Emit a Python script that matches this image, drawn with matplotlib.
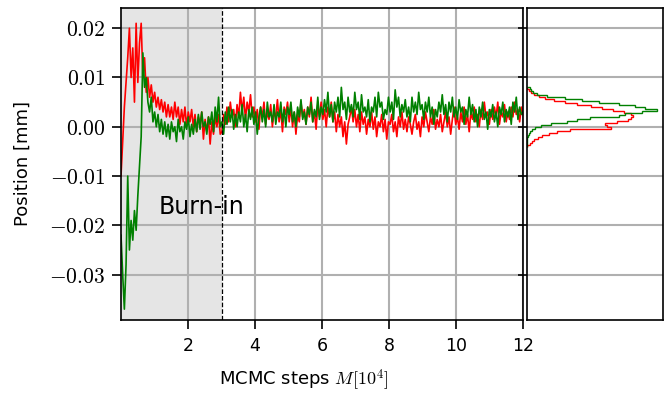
import numpy as np
import matplotlib
matplotlib.use("Agg")
import matplotlib.pyplot as plt
from matplotlib.ticker import FuncFormatter

# trace values in micrometres, one value every 500 MCMC steps
red_um = [-10, -3, 4, 9, 14, 20, 10, 16, 5, 21,
          9, 17, 21, 10, 14, 7, 10, 6, 8.5, 5,
          7, 4, 6, 3.5, 5.5, 3, 5, 2, 4.5, 2,
          4, 1.5, 5, 2, 4, 0.5, 3.5, 1, 4, 0,
          3, 1, 3.5, 0, 2.5, -1, 2, 0.5, 3, -2.5,
          1.5, -1, 2, -3.5, 1, -1.5, 2, 0, 2.5, -1.5,
          -1, 2.5, 0.5, 4, 1, 5, 2, 3.5, 0, 4.5,
          2, 7, 3, 6, 1.5, 5, 3, 6.5, 2, 4,
          1, 3.5, -0.5, 4, 2, 5, 0.5, 3, 1.5, 4.5,
          0, 3, 2, 5.5, 1, 3.5, -1, 4, 2.5, 5,
          1, 4, 0, 3, -1.5, 2.5, 1, 5, 2, 3.5,
          0.5, 4, 2, 6, 1, 3, -0.5, 4.5, 2, 5,
          1.5, 3.5, 0, 4, 2, 5, 1, 3, -1, 2.5,
          0, 2, -2, 1, -3.5, 0.5, 2, 4, 1, 3.5,
          0, 2.5, -1, 3, 0.5, 2, -1.5, 1.5, 0, 3,
          -0.5, 2, -2, 1, 0, 2.5, -1, 1.5, -2.5, 1,
          0.5, 2.5, -1, 1, -2, 2, 0, 3, -0.5, 1.5,
          -1, 2, 0.5, -1.5, 1, 2.5, -0.5, 1, -2, 2,
          0, 3, 1, -1, 2, 0.5, 3.5, -0.5, 1.5, 0,
          2.5, -1, 1, 3, 0, 2, -1.5, 1.5, 4, 0.5,
          2, -0.5, 3, 1, 4, 0.5, 2.5, -1, 3, 1.5,
          4, 1, 2.5, 0, 3.5, 1.5, 5, 2, 3, 0.5,
          3.5, 1.5, 4, 2, 5, 0.5, 3, 2, 4.5, 1,
          3, 1.5, 4, 2, 5, 2.5, 3.5, 1, 4, 2.5]

green_um = [-22, -30, -37, -28, -10, -25, -19, -23, -17, -21,
            -14, -8, -2, 15, 8, 10, 5, 3, 6, 1,
            3, 0, 2.5, -1, 1.5, -1.5, 1, -2, 0.5, -2.5,
            1, -1, 0, -3, 1.5, -1, 0, -2.5, 1, -0.5,
            2, -2, 0.5, -1.5, 1.5, -1, 2.5, -0.5, 3, 0,
            1, -1.5, 2, 0.5, 3, -1, 4, 1, 6, 0,
            1, -1.5, 3, 0.5, 4, 1, 3.5, -0.5, 2.5, 0,
            3, 1, 4.5, 0, 2.5, -1, 3.5, 1.5, 4, 0.5,
            3, -1.5, 2, 4, 1, 3.5, 0, 5, 2, 3,
            1, 4.5, 0.5, 3, 2, 5, 1, 3.5, 0, 4,
            2.5, 5, 1, 3, 0, 4, 2, 5.5, 1.5, 3,
            0.5, 4, 2.5, 5, 1, 3.5, 2, 6, 1.5, 4,
            2.5, 5.5, 3, 7, 2, 4.5, 1, 5, 3, 6,
            2, 8, 3.5, 5, 1.5, 6, 3, 4.5, 2, 7,
            3.5, 5, 1.5, 6.5, 3, 4, 2, 5.5, 1, 4,
            3, 6, 2, 7, 4, 5, 1.5, 3.5, 2.5, 6,
            3, 5, 1.5, 7.5, 4, 6, 2, 4.5, 3, 5.5,
            2, 4, 1, 6, 3, 5, 2.5, 7, 3.5, 4.5,
            1.5, 5, 3, 6, 2, 4, 0.5, 3.5, 2, 5,
            3, 6.5, 2.5, 4.5, 1, 5, 3, 6, 2, 4,
            1.5, 5.5, 3, 4, 0.5, 3.5, 2, 6, 2.5, 4.5,
            1, 3.5, 0, 4, 2, 5, 1.5, 3, -0.5, 3.5,
            2, 4.5, 1, 3, 0, 4, 2.5, 5, 1, 3.5,
            2, 4, 0.5, 5, 3, 6, 1.5, 4, 2.5, 3]

# histogram of the chains after burn-in (bin edges in micrometres)
hist_edges_um = np.linspace(-4.0, 8.0, 31)
red_counts = [0, 3, 5, 7, 11, 15, 22, 30, 43, 84,
              80, 78, 90, 101, 104, 106, 104, 97, 86, 75,
              64, 50, 38, 27, 18, 12, 7, 4, 2, 0]
green_counts = [0, 0, 0, 0, 0, 1, 2, 3, 5, 8,
                14, 24, 40, 50, 63, 92, 98, 115, 130, 118,
                108, 92, 72, 55, 38, 20, 10, 6, 4, 3]

burn_in = 3.0
yticks = [-0.03, -0.02, -0.01, 0.00, 0.01, 0.02]
xticks = [2, 4, 6, 8, 10, 12]

plt.rcParams['mathtext.fontset'] = 'cm'
plt.rcParams['font.family'] = 'DejaVu Sans'
plt.rcParams['axes.linewidth'] = 1.2

red = np.array(red_um) / 1000.0
green = np.array(green_um) / 1000.0
steps = np.linspace(0, 12, len(red))

fig = plt.figure(figsize=(6.67, 3.93), dpi=100)
ax = fig.add_axes([121 / 667, 73 / 393, 402 / 667, 312 / 393])
ax2 = fig.add_axes([527 / 667, 73 / 393, 136 / 667, 312 / 393], sharey=ax)

ax.set_axisbelow(True)
ax.grid(True, color='#b0b0b0', lw=1.5)
ax.axvspan(0, burn_in, color='#e5e5e5', zorder=0, lw=0)
ax.plot(steps, red, color='#ff0000', lw=1.2)
ax.plot(steps, green, color='#008000', lw=1.2)
ax.axvline(burn_in, color='k', ls='--', lw=0.9)
ax.text(2.4, -0.0163, 'Burn-in', fontsize=17, ha='center', va='center')

ax.set_xlim(0, 12)
ax.set_ylim(-0.0392, 0.0241)
ax.set_xticks(xticks)
ax.set_yticks(yticks)
ax.yaxis.set_major_formatter(FuncFormatter(lambda v, _: '$%.2f$' % v))
ax.tick_params(direction='out', length=6.5, width=1.2, labelsize=12.5, pad=6)
ax.tick_params(axis='y', labelsize=15.5, pad=5)
ax.set_xlabel(r'MCMC steps $M[10^4]$', fontsize=13)
ax.set_ylabel('Position [mm]', fontsize=13)
ax.xaxis.set_label_coords(0.455, -0.152)
ax.yaxis.set_label_coords(-0.222, 0.5)

ax2.set_axisbelow(True)
ax2.grid(True, axis='y', color='#b0b0b0', lw=1.5)
ax2.stairs(red_counts, hist_edges_um / 1000.0, orientation='horizontal',
           color='#ff0000', lw=1.0)
ax2.stairs(green_counts, hist_edges_um / 1000.0, orientation='horizontal',
           color='#008000', lw=1.0)
ax2.set_xlim(0, 136)
ax2.set_xticks([])
ax2.tick_params(axis='y', direction='out', length=6.5, width=1.2, labelleft=False)

fig.savefig('out.png', dpi=100)
